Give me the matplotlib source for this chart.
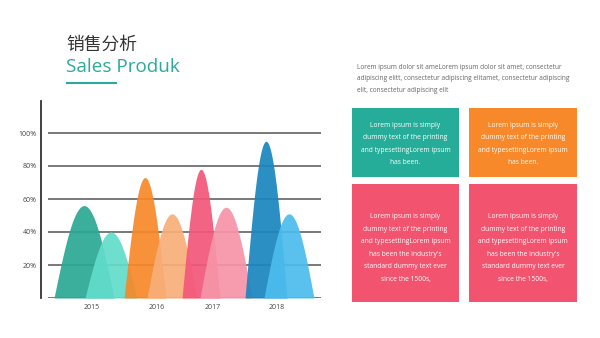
import numpy as np
import matplotlib.pyplot as plt
from matplotlib.patches import Rectangle

plt.rcParams['font.family'] = ['Open Sans', 'Noto Sans CJK SC', 'DejaVu Sans']

# datos del grafico
years = ['2015', '2016', '2017', '2018']
year_pos = [5.1, 11.6, 17.2, 23.6]
peak_x = [4.3, 7.0, 10.4, 13.1, 16.0, 18.5, 22.5, 24.8]
peak_val = [56, 40, 73, 51, 78, 55, 95, 51]
half_w = [3.0, 2.6, 2.1, 2.5, 1.9, 2.6, 2.1, 2.5]
colores = ['#2AA794', '#62DCCB', '#F7892A', '#F9AE78', '#F3577A', '#F794A8', '#1A86BE', '#4CBCEE']
y_ticks = [20, 40, 60, 80, 100]
y_labels = ['20%', '40%', '60%', '80%', '100%']

W, H = 600, 338
fig = plt.figure(figsize=(6, 3.38), dpi=100)

def px_box(x0, y0, x1, y1):
    return [x0 / W, (H - y1) / H, (x1 - x0) / W, (y1 - y0) / H]

# titulo
fig.text(66 / W, 1 - 45 / H, '销售分析', fontsize=12.8, color='#333333',
         family=['Noto Sans CJK SC', 'DejaVu Sans'], va='center', ha='left')
fig.text(66 / W, 1 - 67 / H, 'Sales Produk', fontsize=13.6, color='#2BA99A',
         va='center', ha='left')
fig.add_artist(plt.Line2D([67 / W, 116 / W], [1 - 83 / H, 1 - 83 / H],
                          color='#2BA99A', lw=1.5))

# grafico de montanas
ax = fig.add_axes(px_box(41, 101, 321, 298))
ax.set_xlim(0, 28)
ax.set_ylim(0, 100 * (298 - 101) / 165)
for v in [0] + y_ticks:
    ax.hlines(v, 0.7, 28, color='#555555', lw=1.1, zorder=1)

t = np.linspace(-1, 1, 300)
for x0, h, w, c in zip(peak_x, peak_val, half_w, colores):
    y = h * ((1 + np.cos(np.pi * t)) / 2) ** 0.5
    ax.fill_between(x0 + w * t, 0, y, color=c, alpha=0.92, lw=0, zorder=2)

for s in ['top', 'right', 'bottom']:
    ax.spines[s].set_visible(False)
ax.spines['left'].set_color('#333333')
ax.spines['left'].set_linewidth(1.3)
ax.set_yticks(y_ticks)
ax.set_yticklabels(y_labels, fontsize=5, color='#444444')
ax.tick_params(axis='y', length=0, pad=3)
ax.set_xticks(year_pos)
ax.set_xticklabels(years, fontsize=5, color='#444444')
ax.tick_params(axis='x', length=0, pad=4)

# parrafo
parrafo = ('Lorem ipsum dolor sit ameLorem ipsum dolor sit amet, consectetur\n'
           'adipiscing elitt, consectetur adipiscing elitamet, consectetur adipiscing\n'
           'elit, consectetur adipiscing elit')
fig.text(357 / W, 1 - 64 / H, parrafo, fontsize=4.7, color='#666666',
         va='top', ha='left', linespacing=1.9)

# cajas
texto_corto = ('Lorem ipsum is simply\ndummy text of the printing\n'
               'and typesettingLorem ipsum\nhas been.')
texto_largo = ('Lorem ipsum is simply\ndummy text of the printing\n'
               'and typesettingLorem ipsum\nhas been the industry\'s\n'
               'standard dummy text ever\nsince the 1500s,')
cajas = [(352, 108, 459, 177, '#26AD9A', texto_corto, 1.5),
         (469, 108, 577, 177, '#F7892A', texto_corto, 1.5),
         (352, 184, 459, 302, '#F2546F', texto_largo, 5),
         (469, 184, 577, 302, '#F2546F', texto_largo, 5)]
for x0, y0, x1, y1, c, txt, dy in cajas:
    fig.add_artist(Rectangle((x0 / W, 1 - y1 / H), (x1 - x0) / W, (y1 - y0) / H,
                             facecolor=c, edgecolor='none'))
    fig.text((x0 + x1) / 2 / W, 1 - ((y0 + y1) / 2 + dy) / H, txt, fontsize=4.8,
             color='white', ha='center', va='center', linespacing=2.12)

fig.savefig('out.png', dpi=100, facecolor='white')
